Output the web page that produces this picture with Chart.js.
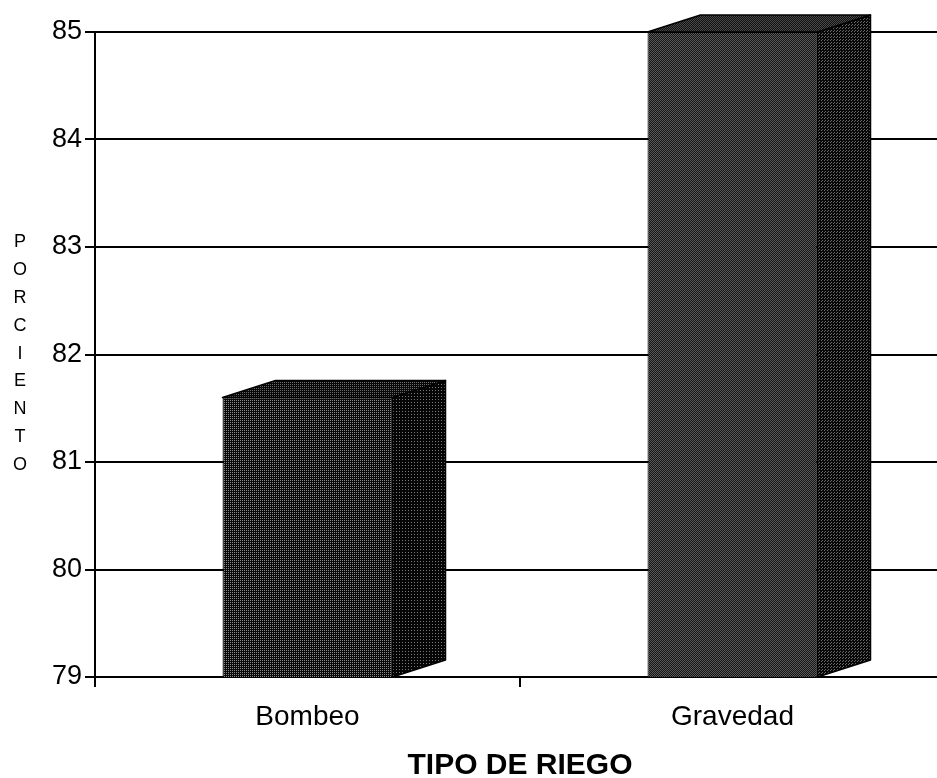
<!DOCTYPE html>
<html>
<head>
<meta charset="utf-8">
<script src="https://cdn.jsdelivr.net/npm/chart.js@4.4.0/dist/chart.umd.min.js"></script>
<style>
  html,body{margin:0;padding:0;background:#fff;overflow:hidden;}
  #wrap{width:937px;height:778px;overflow:hidden;}
</style>
</head>
<body>
<div id="wrap"><canvas id="riegoChart" width="950" height="778"></canvas></div>
<script>
// datos
const categorias=["Bombeo","Gravedad"];
const valores=[81.6,85];
const yTitulo="PORCIENTO";
const xTitulo="TIPO DE RIEGO";

// textura punteada para las caras de las barras
function trama(size,fondo,puntos,gris){
    let c=document.createElement("canvas");
    c.width=size;c.height=size;
    let g=c.getContext("2d");
    g.fillStyle=fondo;
    g.fillRect(0,0,size,size);
    g.fillStyle=gris;
    puntos.forEach(p=>g.fillRect(p[0],p[1],1,1));
    return g.createPattern(c,"repeat");
}
const ctx=document.getElementById("riegoChart").getContext("2d");
const frente=[
    trama(2,"#0a0a0a",[[0,0]],"#8a8a8a"),
    trama(2,"#151515",[[0,0],[1,1]],"#5a5a5a")
];
const lado=[
    trama(3,"#050505",[[0,0]],"#7a7a7a"),
    trama(3,"#080808",[[0,0],[2,1]],"#6a6a6a")
];
const arriba=[
    trama(2,"#080808",[[0,0]],"#6a6a6a"),
    trama(2,"#101010",[[0,0],[1,1]],"#4a4a4a")
];

const barras3d={
    id:"barras3d",
    afterDatasetsDraw(chart){
        let c=chart.ctx;
        let dx=53,dy=-17;
        let ys=chart.scales.y;
        let bs=ys.getPixelForValue(ys.min);
        chart.getDatasetMeta(0).data.forEach((b,i)=>{
            let l=b.x-b.width/2,r=b.x+b.width/2,t=b.y;
            c.save();
            c.lineWidth=1.5;
            c.lineJoin="round";
            c.strokeStyle="#000";
            // lado
            c.beginPath();
            c.moveTo(r,t);c.lineTo(r+dx,t+dy);c.lineTo(r+dx,bs+dy);c.lineTo(r,bs);c.closePath();
            c.fillStyle=lado[i];c.fill();c.stroke();
            // tapa
            c.beginPath();
            c.moveTo(l,t);c.lineTo(l+dx,t+dy);c.lineTo(r+dx,t+dy);c.lineTo(r,t);c.closePath();
            c.fillStyle=arriba[i];c.fill();c.stroke();
            c.restore();
        });
    },
    afterDraw(chart){
        let c=chart.ctx;
        c.save();
        c.font="18px 'Liberation Sans', Arial";
        c.fillStyle="#000";
        c.textAlign="center";
        c.textBaseline="middle";
        for(let i=0;i<yTitulo.length;i++){
            c.fillText(yTitulo[i],20,242+i*27.9);
        }
        c.restore();
    }
};

Chart.defaults.font.family="'Liberation Sans', Arial, sans-serif";
Chart.defaults.color="#000";

new Chart(ctx,{
    type:"bar",
    data:{
        labels:categorias,
        datasets:[{
            data:valores,
            backgroundColor:frente,
            borderColor:"#000",
            borderWidth:1,
            barPercentage:0.4,
            categoryPercentage:1
        }]
    },
    options:{
        responsive:false,
        animation:false,
        layout:{padding:{top:32,left:0,right:5,bottom:0}},
        plugins:{legend:{display:false},tooltip:{enabled:false}},
        scales:{
            x:{
                grid:{display:true,drawOnChartArea:false,drawTicks:true,tickLength:10,color:"#000",lineWidth:2,offset:true},
                border:{display:true,color:"#000",width:2},
                ticks:{font:{size:28},padding:13,color:"#000"},
                title:{display:true,text:xTitulo,font:{size:30,weight:"bold"},color:"#000",padding:{top:10,bottom:-6}},
                afterFit(s){s.height=101;}
            },
            y:{
                min:79,max:85,
                ticks:{stepSize:1,font:{size:27},padding:3,color:"#000"},
                grid:{color:"#000",lineWidth:2,tickLength:10},
                border:{color:"#000",width:2},
                afterFit(s){s.width=95;}
            }
        }
    },
    plugins:[barras3d]
});
</script>
</body>
</html>
